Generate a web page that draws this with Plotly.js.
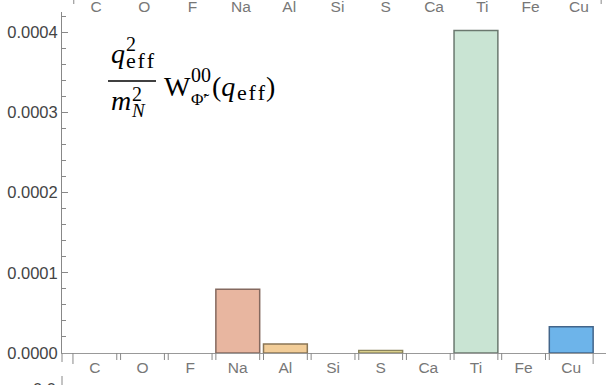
<!DOCTYPE html>
<html>
<head>
<meta charset="utf-8">
<script src="https://cdn.plot.ly/plotly-3.0.1.min.js"></script>
<style>
  html, body { margin: 0; padding: 0; background: #fff; }
  #chart { width: 606px; height: 385px; }
</style>
</head>
<body>
<div id="chart"></div>
<script>
// Target elements and their response values
const elements = ["C", "O", "F", "Na", "Al", "Si", "S", "Ca", "Ti", "Fe", "Cu"];
const responseValues = [0, 0, 0, 0.0000795, 0.0000112, 0, 0.0000032, 0, 0.000402, 0, 0.0000328];

// Per-element bar colours
const fillColors = ["#d9d9d9", "#d9d9d9", "#d9d9d9", "#e8b6a0", "#f2cd98", "#d9d9d9",
                    "#f4e89c", "#d9d9d9", "#c9e4d3", "#d9d9d9", "#6db4ea"];
const edgeColors = ["#777777", "#777777", "#777777", "#84695f", "#8a7656", "#777777",
                    "#8a845c", "#777777", "#6b786f", "#777777", "#42658a"];

const idx = elements.map((_, i) => i);
const barWidth = 0.92;
// empty bars get no outline
const edgeWidths = responseValues.map((v) => (v > 0 ? 1.5 : 0));

// plot area geometry (px)
const W = 606, H = 385;
const M = { l: 62, r: 0, t: 12, b: 32 };
const PW = W - M.l - M.r, PH = H - M.t - M.b;
const px = (x) => (x - M.l) / PW;           // page x -> paper x
const py = (y) => (H - M.b - y) / PH;       // page y -> paper y

const serif = "Liberation Serif, Times New Roman, serif";
const sans = "Liberation Sans, Arial, sans-serif";

function txt(text, left, centerY, size) {
  return {
    text: text, xref: "paper", yref: "paper",
    x: px(left), y: py(centerY), xanchor: "left", yanchor: "middle",
    showarrow: false, font: { family: serif, size: size, color: "#000" },
    borderpad: 0
  };
}

const EFF = "e\u200Af\u200Af";

// formula label: q_eff^2 / m_N^2  W^{00}_{Φ̃'}(q_eff)
const annotations = [
  txt("<i>q</i>", 110, 53.5, 28),
  txt("2", 125, 43.7, 20),
  txt(EFF, 125, 60.5, 22),
  txt("<i>m</i>", 110, 100.5, 28),
  txt("2", 131, 93.7, 20),
  txt("<i>N</i>", 130, 110.5, 19),
  txt("W", 163, 86.5, 28),
  txt("00", 190, 74.7, 20),
  txt("\u03A6\u0303\u2032", 190, 99.2, 17),
  txt("(<i>q</i>", 211, 86.5, 28),
  txt(EFF, 236, 92.5, 22),
  txt(")", 265, 86.5, 28),
  // tick label of the panel below, cut by the page edge
  {
    text: "0.0", xref: "paper", yref: "paper", x: px(57), y: py(378.5),
    xanchor: "right", yanchor: "top", showarrow: false, borderpad: 0,
    font: { family: sans, size: 16.5, color: "#444" }
  }
];

const shapes = [
  // fraction bar
  { type: "line", xref: "paper", yref: "paper", x0: px(108), x1: px(156),
    y0: py(81), y1: py(81), line: { color: "#000", width: 1.4 } },
  // y axis continuing a little below the x axis
  { type: "line", xref: "paper", yref: "paper", x0: 0, x1: 0,
    y0: 0, y1: py(362), line: { color: "#888", width: 1 } },
  // axis of the panel below
  { type: "line", xref: "paper", yref: "paper", x0: 0, x1: 0,
    y0: py(376), y1: py(392), line: { color: "#888", width: 1 } }
];

// category divider ticks at each bar edge (longer at both ends)
idx.forEach((i) => {
  [i - barWidth / 2, i + barWidth / 2].forEach((edge, k) => {
    const isEnd = (i === 0 && k === 0) || (i === idx.length - 1 && k === 1);
    shapes.push({
      type: "line", xref: "x", yref: "paper", x0: edge, x1: edge,
      y0: 0, y1: py(isEnd ? 364 : 360), line: { color: "#888", width: 1 }
    });
  });
});

// end ticks of the panel above
[-barWidth / 2, idx.length - 1 + barWidth / 2].forEach((edge) => {
  shapes.push({
    type: "line", xref: "x2", yref: "paper", x0: edge, x1: edge,
    y0: py(-6), y1: py(4), line: { color: "#888", width: 1 }
  });
});

const traces = [
  {
    type: "bar", x: idx, y: responseValues, width: barWidth,
    marker: { color: fillColors, line: { color: edgeColors, width: edgeWidths } },
    hoverinfo: "skip"
  },
  {
    type: "scatter", mode: "markers", x: idx, y: idx.map(() => 0), xaxis: "x2",
    marker: { opacity: 0, size: 1 }, hoverinfo: "skip", showlegend: false
  }
];

const layout = {
  width: W, height: H,
  margin: M,
  paper_bgcolor: "#fff", plot_bgcolor: "#fff",
  showlegend: false,
  bargap: 0,
  xaxis: {
    range: [-0.69, 10.73], tickmode: "array", tickvals: idx, ticktext: elements,
    ticks: "", showline: true, linecolor: "#999", linewidth: 1,
    showgrid: false, zeroline: false, fixedrange: true,
    tickfont: { family: sans, size: 15.5, color: "#777" }
  },
  xaxis2: {
    overlaying: "x", side: "top", anchor: "y",
    range: [-0.704, 10.56], tickmode: "array", tickvals: idx, ticktext: elements,
    ticks: "", showline: false, showgrid: false, zeroline: false, fixedrange: true,
    ticklabelstandoff: -4,
    tickfont: { family: sans, size: 15.5, color: "#777" }
  },
  yaxis: {
    range: [0, 0.000425], tick0: 0, dtick: 0.0001, tickformat: ".4f",
    ticks: "inside", ticklen: 6, tickcolor: "#888", tickwidth: 1,
    showline: true, linecolor: "#888", linewidth: 1,
    showgrid: false, zeroline: false, fixedrange: true,
    tickfont: { family: sans, size: 16.5, color: "#444" },
    minor: { dtick: 0.00002, ticks: "inside", ticklen: 4, tickcolor: "#888", showgrid: false }
  },
  annotations: annotations,
  shapes: shapes
};

Plotly.newPlot("chart", traces, layout, { staticPlot: true, displayModeBar: false });
</script>
</body>
</html>
